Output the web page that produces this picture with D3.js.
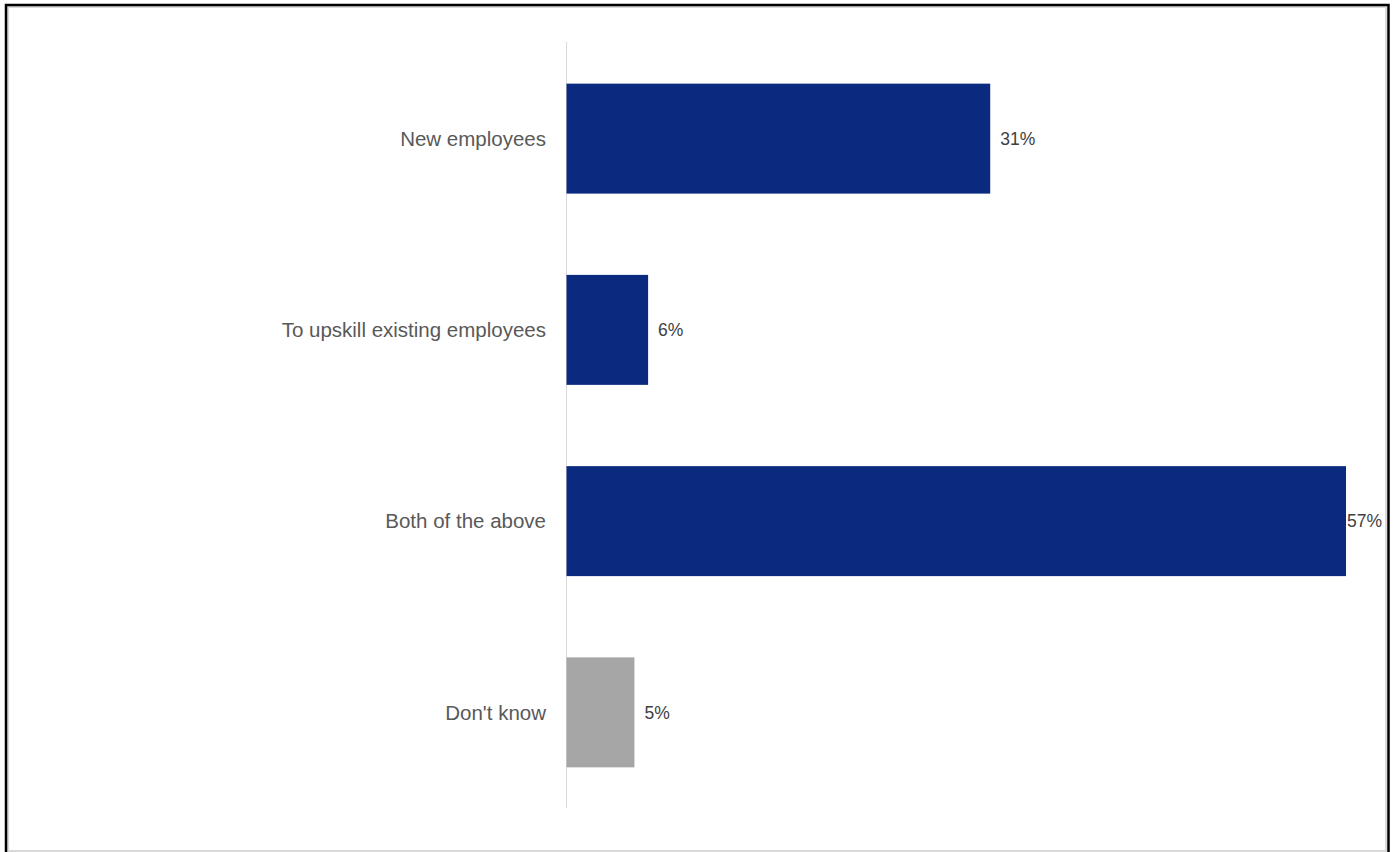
<!DOCTYPE html>
<html>
<head>
<meta charset="utf-8">
<script src="https://cdn.jsdelivr.net/npm/d3@7"></script>
<style>
  html, body { margin: 0; padding: 0; background: #fff; }
  svg { display: block; }
</style>
</head>
<body>
<script>
// Survey responses: who the training is intended for
const categories = ["New employees", "To upskill existing employees", "Both of the above", "Don't know"];
const values = [31, 6, 57, 5];
const barColors = ["#0a2a80", "#0a2a80", "#0a2a80", "#a6a6a6"];

const W = 1395, H = 852;
const svg = d3.select("body").append("svg").attr("width", W).attr("height", H);

// Frame: light inner line with a dark outer edge
svg.append("rect").attr("x", 8).attr("y", 7).attr("width", 1378).attr("height", 844)
  .attr("fill", "#fff").attr("stroke", "#d9d9d9").attr("stroke-width", 2);
svg.append("path").attr("d", "M6,852 V5 H1388.5 V852")
  .attr("fill", "none").attr("stroke", "#000").attr("stroke-width", 2.5);

const plot = { left: 566, right: 1346, top: 43, bottom: 808 };

const x = d3.scaleLinear().domain([0, 57]).range([plot.left, plot.right]);
const y = d3.scaleBand().domain(categories).range([plot.top, plot.bottom])
  .paddingInner(0.425).paddingOuter(0.2125);

// Category axis line
svg.append("line")
  .attr("x1", plot.left + 0.5).attr("x2", plot.left + 0.5)
  .attr("y1", plot.top - 1).attr("y2", plot.bottom)
  .attr("stroke", "#d9d9d9").attr("stroke-width", 1);

// Bars
svg.selectAll("rect.bar").data(categories).enter().append("rect")
  .attr("class", "bar")
  .attr("x", x(0) + 0.5)
  .attr("y", d => y(d))
  .attr("width", (d, i) => x(values[i]) - x(0) - 0.5)
  .attr("height", y.bandwidth())
  .attr("fill", (d, i) => barColors[i]);

// Category labels
svg.selectAll("text.cat").data(categories).enter().append("text")
  .attr("class", "cat")
  .attr("x", plot.left - 20)
  .attr("y", d => y(d) + y.bandwidth() / 2)
  .attr("dy", "0.35em")
  .attr("text-anchor", "end")
  .attr("font-family", "Liberation Sans, Arial, sans-serif")
  .attr("font-size", 20.5)
  .attr("fill", "#595959")
  .text(d => d);

// Value labels, kept inside the frame
const labelLimit = 1382;
svg.selectAll("text.val").data(categories).enter().append("text")
  .attr("class", "val")
  .attr("y", d => y(d) + y.bandwidth() / 2)
  .attr("dy", "0.35em")
  .attr("font-family", "Liberation Sans, Arial, sans-serif")
  .attr("font-size", 17.5)
  .attr("fill", "#404040")
  .text((d, i) => values[i] + "%")
  .attr("x", function (d, i) {
    const w = this.getComputedTextLength();
    return Math.min(x(values[i]) + 10, labelLimit - w);
  });
</script>
</body>
</html>
